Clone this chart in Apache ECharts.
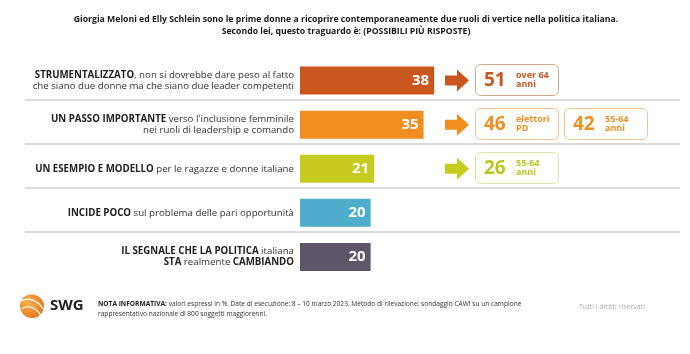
<!DOCTYPE html>
<html><head><meta charset="utf-8">
<script src="https://cdn.jsdelivr.net/npm/echarts@6/dist/echarts.min.js"></script>
<style>html,body{margin:0;padding:0;background:#fff}#c{width:690px;height:354px}</style>
</head><body><div id="c"></div>
<script>
// ---- data ----
var titleLines = [
  "Giorgia Meloni ed Elly Schlein sono le prime donne a ricoprire contemporaneamente due ruoli di vertice nella politica italiana.",
  "Secondo lei, questo traguardo è: (POSSIBILI PIÙ RISPOSTE)"
];
var categories = [
  "{b|STRUMENTALIZZATO}{n|, non si dovrebbe dare peso al fatto}\n{n|che siano due donne ma che siano due leader competenti}",
  "{b|UN PASSO IMPORTANTE}{n| verso l'inclusione femminile}\n{n|nei ruoli di leadership e comando}",
  "{b|UN ESEMPIO E MODELLO}{n| per le ragazze e donne italiane}",
  "{b|INCIDE POCO}{n| sul problema delle pari opportunità}",
  "{b|IL SEGNALE CHE LA POLITICA}{n| italiana}\n{b|STA}{n| realmente }{b|CAMBIANDO}"
];
var values = [38, 35, 21, 20, 20];
var barColors = ["#C9561D", "#F28D1F", "#C6CB1E", "#4DADCA", "#5E5569"];

var highlightRows   = [0, 1, 1, 2];
var highlightValues = [51, 46, 42, 26];
var highlightLine1  = ["over 64", "elettori", "55-64", "55-64"];
var highlightLine2  = ["anni", "PD", "anni", "anni"];
var highlightSlots  = [0, 0, 1, 0];
var boxBorder = ["#D9A88A", "#F4C592", "#F4C592", "#DFE3A3"];
var boxText   = ["#C65A22", "#EE9024", "#EE9024", "#BCC420"];

var noteBold = "NOTA INFORMATIVA:";
var noteText1 = " valori espressi in %. Date di esecuzione: 8 – 10 marzo 2023. Metodo di rilevazione: sondaggio CAWI su un campione";
var noteText2 = "rappresentativo nazionale di 800 soggetti maggiorenni.";
var rights = "Tutti i diritti riservati";
var brand = "SWG";

// ---- chart ----
var FONT = "'Open Sans', 'Liberation Sans', sans-serif";
var chart = echarts.init(document.getElementById('c'), null, {renderer: 'canvas'});

var barData = values.map(function (v, i) {
  return {value: v, itemStyle: {color: barColors[i]}};
});
var hlData = highlightRows.map(function (r, i) {
  return [highlightValues[i], r, i];
});
var sepData = [0, 1, 2, 3].map(function (r) { return [0, r]; });

var option = {
  backgroundColor: '#ffffff',
  animation: false,
  title: {
    text: titleLines.join('\n'),
    left: 341, top: 8, textAlign: 'center',
    textStyle: {fontFamily: FONT, fontSize: 8.7, fontWeight: 'bold', color: '#1a1a1a', lineHeight: 12.5}
  },
  grid: {left: 300, top: 58.5, height: 220.5, right: 37, containLabel: false},
  xAxis: {type: 'value', min: 0, max: 100, show: false},
  yAxis: {
    type: 'category', data: categories, inverse: true,
    axisLine: {show: false}, axisTick: {show: false}, splitLine: {show: false},
    axisLabel: {
      margin: 6, align: 'right',
      fontFamily: FONT, fontSize: 9.7, color: '#333', lineHeight: 11.5,
      rich: {
        b: {fontFamily: FONT, fontSize: 9.7, fontWeight: 'bold', color: '#222', lineHeight: 11.5},
        n: {fontFamily: FONT, fontSize: 9.7, color: '#333', lineHeight: 11.5}
      }
    }
  },
  series: [
    {
      type: 'custom', z: 1, silent: true,
      data: sepData,
      renderItem: function (params, api) {
        var c = api.coord([0, api.value(1)]);
        var h = api.size([0, 1])[1];
        var y = Math.round(c[1] + h / 2 - 2.5);
        return {type: 'line', shape: {x1: 25, y1: y, x2: 680, y2: y},
          style: {stroke: '#dcdcdc', lineWidth: 2}};
      }
    },
    {
      type: 'bar', data: barData, barWidth: 28, z: 3,
      label: {
        show: true, position: 'insideRight', distance: 5,
        color: '#fff', fontFamily: FONT, fontWeight: 'bold', fontSize: 15
      }
    },
    {
      type: 'custom', z: 4, silent: true,
      data: hlData,
      renderItem: function (params, api) {
        var row = api.value(1);
        var i = api.value(2);
        var cy = api.coord([0, row])[1];
        var slot = highlightSlots[i];
        var x0 = slot === 0 ? 475 : 564;
        var w = 83, h = 31;
        var children = [];
        if (slot === 0) {
          var ac = barColors[row];
          children.push({type: 'polygon', shape: {points: [
            [445, cy - 5], [457, cy - 5], [457, cy - 11], [469, cy], [457, cy + 11], [457, cy + 5], [445, cy + 5]
          ]}, style: {fill: ac}});
        }
        children.push({type: 'rect', shape: {x: x0 + 0.5, y: Math.round(cy - h / 2) - 0.5, width: w, height: h, r: 5},
          style: {fill: '#fff', stroke: boxBorder[i], lineWidth: 1}});
        children.push({type: 'text', x: x0 + 9, y: cy, style: {
          text: String(api.value(0)), fill: boxText[i], font: 'bold 19px ' + FONT,
          textAlign: 'left', textVerticalAlign: 'middle'}});
        children.push({type: 'text', x: x0 + 41, y: cy - 1, style: {
          text: highlightLine1[i] + '\n' + highlightLine2[i], fill: boxText[i], font: 'bold 9px ' + FONT,
          lineHeight: 9, textAlign: 'left', textVerticalAlign: 'middle'}});
        return {type: 'group', children: children};
      }
    }
  ],
  graphic: [
    {type: 'circle', shape: {cx: 32, cy: 306, r: 12}, style: {fill: {
      type: 'radial', x: 0.35, y: 0.35, r: 0.8,
      colorStops: [{offset: 0, color: '#F9B24E'}, {offset: 1, color: '#E56E17'}]}}},
    {type: 'bezierCurve', shape: {x1: 21, y1: 301, x2: 43, y2: 309, cpx1: 28, cpy1: 297, cpx2: 38, cpy2: 300},
      style: {stroke: '#fff', lineWidth: 1.2, fill: null}},
    {type: 'bezierCurve', shape: {x1: 22, y1: 309, x2: 41, y2: 316, cpx1: 28, cpy1: 304, cpx2: 37, cpy2: 308},
      style: {stroke: '#fff', lineWidth: 1.2, fill: null}},
    {type: 'bezierCurve', shape: {x1: 27, y1: 295, x2: 44, y2: 302, cpx1: 32, cpy1: 292, cpx2: 40, cpy2: 295},
      style: {stroke: '#fff', lineWidth: 1, fill: null}},
    {type: 'text', x: 50, y: 306, style: {text: brand, font: 'bold 15px ' + FONT, fill: '#222',
      textVerticalAlign: 'middle'}},
    {type: 'text', x: 98, y: 299, style: {
      text: '{b|' + noteBold + '}{n|' + noteText1 + '}\n{n|' + noteText2 + '}',
      rich: {
        b: {fontFamily: FONT, fontSize: 6.6, fontWeight: 'bold', fill: '#222', lineHeight: 10},
        n: {fontFamily: FONT, fontSize: 6.6, fill: '#333', lineHeight: 10}
      }, textVerticalAlign: 'top'}},
    {type: 'text', x: 579, y: 307, style: {text: rights, font: '7px ' + FONT, fill: '#aaaaaa',
      textVerticalAlign: 'middle'}}
  ]
};
chart.setOption(option);
</script>
</body></html>
